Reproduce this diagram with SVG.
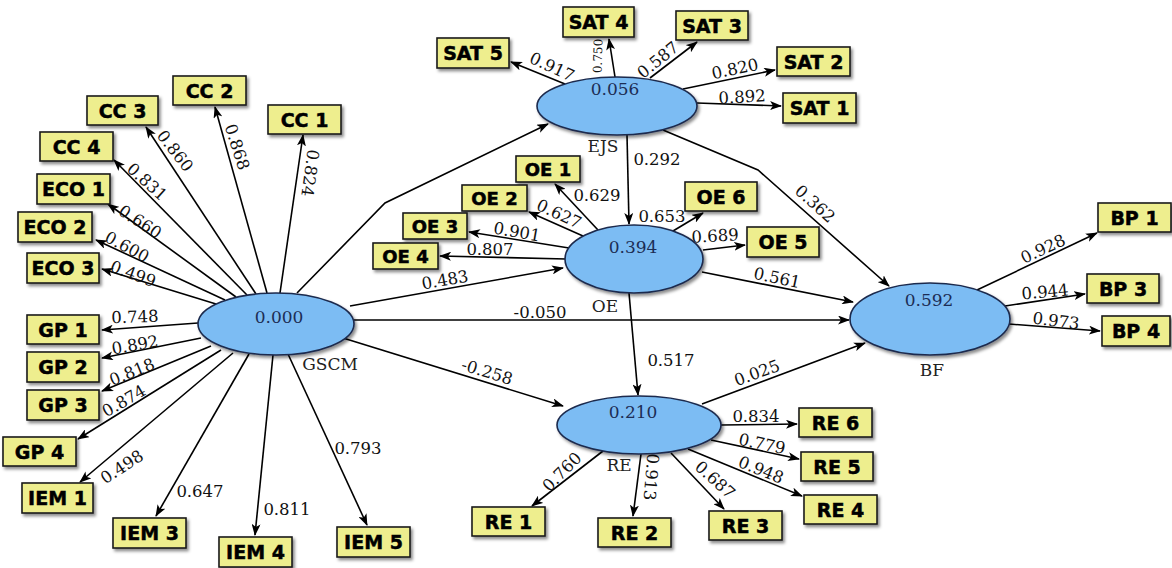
<svg xmlns="http://www.w3.org/2000/svg" width="1172" height="568" viewBox="0 0 1172 568">
<defs>
<filter id="sh" x="-20%" y="-20%" width="150%" height="160%">
<feDropShadow dx="2" dy="2.5" stdDeviation="1.6" flood-color="#000" flood-opacity="0.45"/>
</filter>
<marker id="ah" markerUnits="userSpaceOnUse" markerWidth="12" markerHeight="9" refX="11" refY="4.5" orient="auto">
<path d="M0,0 L12,4.5 L0,9 L3,4.5 z" fill="#000"/>
</marker>
<style>
.box{fill:#eeee8e;stroke:#1a1a1a;stroke-width:1.6;filter:url(#sh)}
.bt{font-family:"DejaVu Sans",sans-serif;font-weight:bold;font-size:19px;text-anchor:middle;fill:#000;stroke:#000;stroke-width:0.5}
.bts{font-size:18px}
.lv{fill:#7bbcf3;stroke:#1c2a4d;stroke-width:1.6;filter:url(#sh)}
.lvv{font-family:"DejaVu Serif",serif;font-size:17px;text-anchor:middle;dominant-baseline:central;fill:#1c2d55}
.lvn{font-family:"DejaVu Serif",serif;font-size:17px;text-anchor:middle;dominant-baseline:central;fill:#222}
.c{fill:none;stroke:#000;stroke-width:1.6;marker-end:url(#ah)}
.n{font-family:"DejaVu Serif",serif;font-size:16.5px;text-anchor:middle;dominant-baseline:central;fill:#111}
.ns{font-size:12px}
</style>
</defs>
<rect width="1172" height="568" fill="#fff"/>

<g id="connectors">
<line class="c" x1="280" y1="293" x2="303" y2="135"/>
<line class="c" x1="267" y1="293" x2="215" y2="107"/>
<line class="c" x1="256" y1="294" x2="146" y2="127"/>
<line class="c" x1="247" y1="295" x2="114" y2="160"/>
<line class="c" x1="236" y1="297" x2="108" y2="204"/>
<line class="c" x1="225" y1="300" x2="96" y2="240"/>
<line class="c" x1="216" y1="304" x2="102" y2="269"/>
<line class="c" x1="198" y1="323" x2="102" y2="330"/>
<line class="c" x1="201" y1="338" x2="102" y2="358"/>
<line class="c" x1="211" y1="346" x2="102" y2="391"/>
<line class="c" x1="221" y1="350" x2="78" y2="439"/>
<line class="c" x1="233" y1="353" x2="80" y2="482"/>
<line class="c" x1="249" y1="354" x2="156" y2="516"/>
<line class="c" x1="273" y1="355" x2="255" y2="535"/>
<line class="c" x1="288" y1="354" x2="367" y2="525"/>
<line class="c" x1="565" y1="84" x2="511" y2="62"/>
<line class="c" x1="615" y1="77" x2="609" y2="39"/>
<line class="c" x1="650" y1="78" x2="697" y2="42"/>
<line class="c" x1="683" y1="89" x2="775" y2="70"/>
<line class="c" x1="697" y1="103" x2="781" y2="106"/>
<line class="c" x1="598" y1="230" x2="555" y2="184"/>
<line class="c" x1="583" y1="236" x2="529" y2="212"/>
<line class="c" x1="569" y1="248" x2="469" y2="232"/>
<line class="c" x1="566" y1="259" x2="440" y2="256"/>
<line class="c" x1="673" y1="231" x2="703" y2="213"/>
<line class="c" x1="703" y1="250" x2="745" y2="245"/>
<line class="c" x1="721" y1="425" x2="797" y2="424"/>
<line class="c" x1="711" y1="440" x2="799" y2="459"/>
<line class="c" x1="688" y1="449" x2="802" y2="496"/>
<line class="c" x1="671" y1="453" x2="724" y2="509"/>
<line class="c" x1="641" y1="454" x2="633" y2="516"/>
<line class="c" x1="603" y1="451" x2="532" y2="506"/>
<line class="c" x1="977" y1="290" x2="1097" y2="233"/>
<line class="c" x1="1005" y1="306" x2="1085" y2="294"/>
<line class="c" x1="1009" y1="324" x2="1100" y2="331"/>
<polyline class="c" points="297,293 385,203 548,124"/>
<line class="c" x1="350" y1="306" x2="563" y2="268"/>
<line class="c" x1="354" y1="320" x2="849" y2="320"/>
<line class="c" x1="343" y1="338" x2="563" y2="406"/>
<line class="c" x1="627" y1="135" x2="629" y2="224"/>
<polyline class="c" points="663,130 758,170 889,286"/>
<line class="c" x1="702" y1="272" x2="853" y2="302"/>
<line class="c" x1="629" y1="293" x2="638" y2="395"/>
<line class="c" x1="702" y1="404" x2="865" y2="343"/>
</g>

<g id="connector-labels">
<text class="n" transform="translate(310,173) rotate(98)">0.824</text>
<text class="n" transform="translate(237,147) rotate(72)">0.868</text>
<text class="n" transform="translate(175,151) rotate(52)">0.860</text>
<text class="n" transform="translate(147,182) rotate(42)">0.831</text>
<text class="n" transform="translate(140,222) rotate(33)">0.660</text>
<text class="n" transform="translate(127,247) rotate(28)">0.600</text>
<text class="n" transform="translate(133,274) rotate(20)">0.499</text>
<text class="n" transform="translate(135,317) rotate(-2)">0.748</text>
<text class="n" transform="translate(135,345) rotate(-10)">0.892</text>
<text class="n" transform="translate(132,372) rotate(-22)">0.818</text>
<text class="n" transform="translate(124,401) rotate(-30)">0.874</text>
<text class="n" transform="translate(122,467) rotate(-33)">0.498</text>
<text class="n" x="200" y="491">0.647</text>
<text class="n" x="287" y="509">0.811</text>
<text class="n" x="358" y="448">0.793</text>
<text class="n" transform="translate(552,67) rotate(25)">0.917</text>
<text class="n ns" transform="translate(598,56) rotate(-88)">0.750</text>
<text class="n" transform="translate(658,60) rotate(-39)">0.587</text>
<text class="n" transform="translate(735,69) rotate(-12)">0.820</text>
<text class="n" transform="translate(742,97) rotate(-3)">0.892</text>
<text class="n" x="597" y="195">0.629</text>
<text class="n" transform="translate(559,214) rotate(25)">0.627</text>
<text class="n" transform="translate(517,232) rotate(10)">0.901</text>
<text class="n" x="490" y="249">0.807</text>
<text class="n" x="662" y="216">0.653</text>
<text class="n" transform="translate(715,236) rotate(-3)">0.689</text>
<text class="n" transform="translate(445,280) rotate(-10)">0.483</text>
<text class="n" x="540" y="312">-0.050</text>
<text class="n" transform="translate(777,278) rotate(12)">0.561</text>
<text class="n" transform="translate(815,204) rotate(42)">0.362</text>
<text class="n" x="657" y="159">0.292</text>
<text class="n" x="671" y="360">0.517</text>
<text class="n" transform="translate(487,372) rotate(17)">-0.258</text>
<text class="n" transform="translate(757,373) rotate(-20)">0.025</text>
<text class="n" x="756" y="416">0.834</text>
<text class="n" transform="translate(762,444) rotate(12)">0.779</text>
<text class="n" transform="translate(761,470) rotate(22)">0.948</text>
<text class="n" transform="translate(715,480) rotate(42)">0.687</text>
<text class="n" transform="translate(651,477) rotate(95)">0.913</text>
<text class="n" transform="translate(562,472) rotate(-45)">0.760</text>
<text class="n" transform="translate(1043,249) rotate(-25)">0.928</text>
<text class="n" transform="translate(1045,292) rotate(-5)">0.944</text>
<text class="n" transform="translate(1056,321) rotate(7)">0.973</text>
</g>

<g id="GSCM"><ellipse class="lv" cx="276" cy="324" rx="78" ry="31"/><text class="lvv" x="279" y="317">0.000</text><text class="lvn" x="330" y="364">GSCM</text></g>
<g id="EJS"><ellipse class="lv" cx="617" cy="106" rx="80" ry="29"/><text class="lvv" x="615" y="89">0.056</text><text class="lvn" x="603" y="146">EJS</text></g>
<g id="OE"><ellipse class="lv" cx="634" cy="259" rx="69" ry="34"/><text class="lvv" x="633" y="247">0.394</text><text class="lvn" x="605" y="306">OE</text></g>
<g id="RE"><ellipse class="lv" cx="639" cy="425" rx="82" ry="29"/><text class="lvv" x="633" y="412">0.210</text><text class="lvn" x="619" y="465">RE</text></g>
<g id="BF"><ellipse class="lv" cx="930" cy="319" rx="80" ry="36"/><text class="lvv" x="929" y="300">0.592</text><text class="lvn" x="932" y="370">BF</text></g>

<g id="CC1"><rect class="box" x="268" y="105" width="73" height="29"/><text class="bt" x="304.5" y="126.5">CC 1</text></g>
<g id="CC2"><rect class="box" x="173" y="76" width="73" height="29"/><text class="bt" x="209.5" y="97.5">CC 2</text></g>
<g id="CC3"><rect class="box" x="87" y="96" width="71" height="29"/><text class="bt" x="122.5" y="117.5">CC 3</text></g>
<g id="CC4"><rect class="box" x="40" y="132" width="73" height="29"/><text class="bt" x="76.5" y="153.5">CC 4</text></g>
<g id="ECO1"><rect class="box" x="37" y="174" width="73" height="30"/><text class="bt" x="73.5" y="196">ECO 1</text></g>
<g id="ECO2"><rect class="box" x="18" y="212" width="74" height="30"/><text class="bt" x="55" y="234">ECO 2</text></g>
<g id="ECO3"><rect class="box" x="27" y="253" width="72" height="30"/><text class="bt" x="63" y="275">ECO 3</text></g>
<g id="GP1"><rect class="box" x="27" y="315" width="72" height="29"/><text class="bt" x="63" y="336.5">GP 1</text></g>
<g id="GP2"><rect class="box" x="27" y="352" width="72" height="30"/><text class="bt" x="63" y="374">GP 2</text></g>
<g id="GP3"><rect class="box" x="27" y="390" width="72" height="30"/><text class="bt" x="63" y="412">GP 3</text></g>
<g id="GP4"><rect class="box" x="3" y="437" width="73" height="29"/><text class="bt" x="39.5" y="458.5">GP 4</text></g>
<g id="IEM1"><rect class="box" x="22" y="483" width="71" height="30"/><text class="bt" x="57.5" y="505">IEM 1</text></g>
<g id="IEM3"><rect class="box" x="113" y="518" width="73" height="30"/><text class="bt" x="149.5" y="540">IEM 3</text></g>
<g id="IEM4"><rect class="box" x="219" y="537" width="73" height="30"/><text class="bt" x="255.5" y="559">IEM 4</text></g>
<g id="IEM5"><rect class="box" x="337" y="527" width="73" height="30"/><text class="bt" x="373.5" y="549">IEM 5</text></g>
<g id="SAT5"><rect class="box" x="437" y="38" width="72" height="30"/><text class="bt" x="473" y="60">SAT 5</text></g>
<g id="SAT4"><rect class="box" x="563" y="7" width="71" height="30"/><text class="bt" x="598.5" y="29">SAT 4</text></g>
<g id="SAT3"><rect class="box" x="676" y="11" width="72" height="29"/><text class="bt" x="712" y="32.5">SAT 3</text></g>
<g id="SAT2"><rect class="box" x="777" y="47" width="73" height="29"/><text class="bt" x="813.5" y="68.5">SAT 2</text></g>
<g id="SAT1"><rect class="box" x="783" y="93" width="73" height="30"/><text class="bt" x="819.5" y="115">SAT 1</text></g>
<g id="OE1"><rect class="box" x="516" y="156" width="64" height="26"/><text class="bt bts" x="548" y="175.5">OE 1</text></g>
<g id="OE2"><rect class="box" x="462" y="185" width="65" height="26"/><text class="bt bts" x="494.5" y="204.5">OE 2</text></g>
<g id="OE3"><rect class="box" x="403" y="213" width="64" height="26"/><text class="bt bts" x="435" y="232.5">OE 3</text></g>
<g id="OE4"><rect class="box" x="373" y="243" width="65" height="26"/><text class="bt bts" x="405.5" y="262.5">OE 4</text></g>
<g id="OE6"><rect class="box" x="685" y="182" width="72" height="29"/><text class="bt" x="721" y="203.5">OE 6</text></g>
<g id="OE5"><rect class="box" x="747" y="227" width="72" height="30"/><text class="bt" x="783" y="249">OE 5</text></g>
<g id="RE6"><rect class="box" x="799" y="408" width="73" height="29"/><text class="bt" x="835.5" y="429.5">RE 6</text></g>
<g id="RE5"><rect class="box" x="801" y="452" width="72" height="29"/><text class="bt" x="837" y="473.5">RE 5</text></g>
<g id="RE4"><rect class="box" x="804" y="495" width="73" height="29"/><text class="bt" x="840.5" y="516.5">RE 4</text></g>
<g id="RE3"><rect class="box" x="709" y="511" width="73" height="29"/><text class="bt" x="745.5" y="532.5">RE 3</text></g>
<g id="RE2"><rect class="box" x="598" y="518" width="73" height="29"/><text class="bt" x="634.5" y="539.5">RE 2</text></g>
<g id="RE1"><rect class="box" x="472" y="507" width="73" height="29"/><text class="bt" x="508.5" y="528.5">RE 1</text></g>
<g id="BP1"><rect class="box" x="1098" y="203" width="73" height="29"/><text class="bt" x="1134.5" y="224.5">BP 1</text></g>
<g id="BP3"><rect class="box" x="1087" y="274" width="72" height="29"/><text class="bt" x="1123" y="295.5">BP 3</text></g>
<g id="BP4"><rect class="box" x="1102" y="316" width="68" height="30"/><text class="bt" x="1136" y="338">BP 4</text></g>
</svg>
